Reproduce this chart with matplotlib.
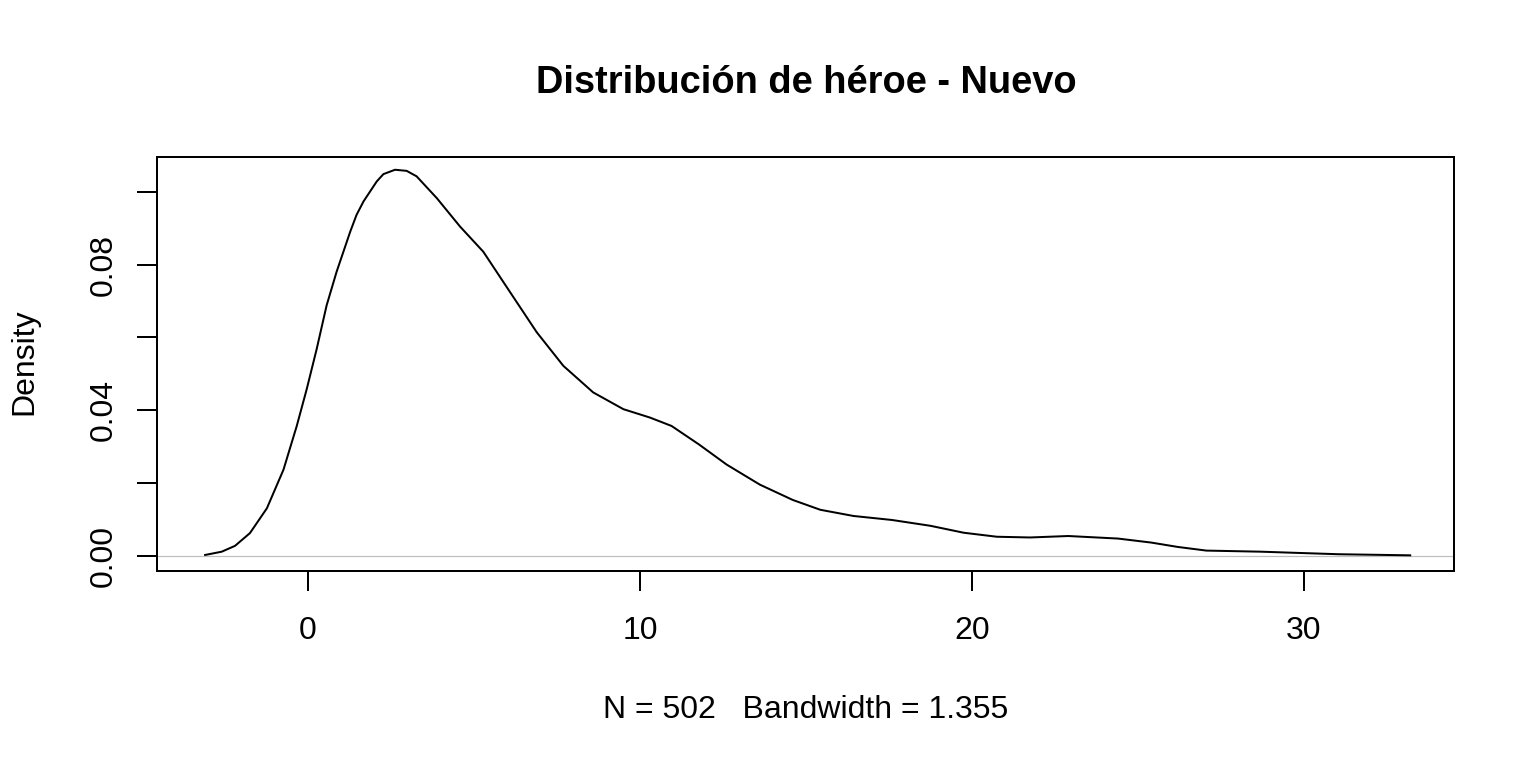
import numpy as np
import matplotlib.pyplot as plt

plt.rcParams['font.family'] = ['Liberation Sans', 'DejaVu Sans']

# density curve
x_vals = [-3.1, -2.6, -2.2, -1.75, -1.24, -0.74, -0.34, -0.04, 0.26, 0.56, 0.86,
          1.27, 1.46, 1.67, 2.07, 2.27, 2.62, 2.97, 3.27, 3.88, 4.58, 5.28,
          6.08, 6.89, 7.69, 8.59, 9.5, 10.3, 10.95, 11.78, 12.61, 13.61,
          14.6, 15.43, 16.43, 17.59, 18.75, 19.75, 20.75, 21.75, 22.9, 24.4,
          25.4, 26.2, 27.06, 28.7, 29.7, 31.05, 33.2]
dens = [0.0003, 0.0012, 0.0028, 0.0063, 0.0131, 0.0237, 0.0357, 0.0458, 0.0568, 0.0688, 0.078,
        0.089, 0.0936, 0.0973, 0.1028, 0.1048, 0.106, 0.1057, 0.1042, 0.0982, 0.0904, 0.0835,
        0.0725, 0.0614, 0.0522, 0.0449, 0.0403, 0.038, 0.0357, 0.0306, 0.0251, 0.0196,
        0.0154, 0.0127, 0.011, 0.0099, 0.0083, 0.0064, 0.0053, 0.0051, 0.0055, 0.0048,
        0.0037, 0.0025, 0.0015, 0.0012, 0.0009, 0.0005, 0.0002]

x_ticks = [0, 10, 20, 30]
y_ticks = [0.0, 0.02, 0.04, 0.06, 0.08, 0.10]
y_labels = ['0.00', '', '0.04', '', '0.08', '']

title = 'Distribución de héroe - Nuevo'
sub = 'N = 502   Bandwidth = 1.355'

W, H = 1536, 768
fig = plt.figure(figsize=(16, 8), dpi=96)
ax = fig.add_axes([157 / W, (H - 571) / H, (1454 - 157) / W, (571 - 157) / H])

ax.axhline(0, color='#bebebe', lw=0.9, zorder=1)
ax.plot(x_vals, dens, color='black', lw=1.5, zorder=2)

ax.set_xlim(-4.55, 34.52)
ax.set_ylim(-0.0041, 0.1095)

ax.set_xticks(x_ticks)
ax.set_xticklabels([str(t) for t in x_ticks])
ax.set_yticks(y_ticks)
ax.set_yticklabels(y_labels, rotation=90, va='center')

for s in ax.spines.values():
    s.set_linewidth(1.5)
ax.tick_params(axis='both', length=15, width=1.5, labelsize=24, color='black')
ax.tick_params(axis='x', pad=19)
ax.tick_params(axis='y', pad=14)

fig.text(806 / W, 1 - 93 / H, title, ha='center', va='baseline',
         fontsize=28.5, fontweight='bold')
fig.text(806 / W, 1 - 718 / H, sub, ha='center', va='baseline', fontsize=24)
fig.text(24 / W, 1 - 362 / H, 'Density', ha='center', va='center',
         rotation=90, fontsize=24)

fig.savefig('out.png', dpi=96)
